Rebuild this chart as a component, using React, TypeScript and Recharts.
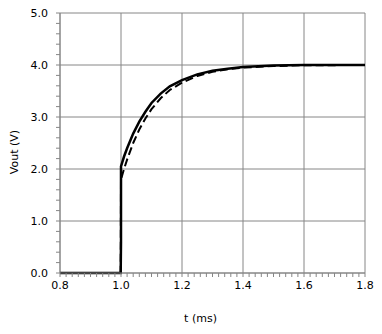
import { CartesianGrid, Label, Line, LineChart, XAxis, YAxis } from "recharts";

// time axis (ms)
const tMajor = [0.8, 1.0, 1.2, 1.4, 1.6, 1.8];
const vMajor = [0, 1, 2, 3, 4, 5];

// solid trace
const solidT = [0.8, 0.999, 1.0, 1.0, 1.01, 1.02, 1.04, 1.06, 1.08, 1.1, 1.13, 1.16, 1.2, 1.25, 1.3, 1.35, 1.4, 1.5, 1.6, 1.8];
const solidV = [0, 0, 0.6, 2.05, 2.24, 2.4, 2.68, 2.91, 3.1, 3.27, 3.45, 3.59, 3.71, 3.82, 3.89, 3.93, 3.96, 3.99, 4.0, 4.0];

// dashed trace
const dashT = [0.8, 0.999, 1.0, 1.01, 1.02, 1.04, 1.06, 1.08, 1.1, 1.13, 1.16, 1.2, 1.25, 1.3, 1.35, 1.4, 1.5, 1.6, 1.8];
const dashV = [0, 0, 1.8, 2.0, 2.18, 2.5, 2.76, 2.97, 3.15, 3.36, 3.52, 3.66, 3.79, 3.87, 3.92, 3.95, 3.98, 3.995, 4.0];

const solidData = solidT.map((t, i) => ({ t, v: solidV[i] }));
const dashData = dashT.map((t, i) => ({ t, v: dashV[i] }));

// minor tick positions
const xTicks: number[] = [];
for (let i = 0; i <= 50; i++) xTicks.push(Math.round((0.8 + i * 0.02) * 100) / 100);
const yTicks: number[] = [];
for (let i = 0; i <= 25; i++) yTicks.push(Math.round(i * 0.2 * 10) / 10);

const font = "'DejaVu Sans', sans-serif";

const XTick = (props: any) => {
  const { x, y, payload } = props;
  if (!tMajor.some((m) => Math.abs(m - payload.value) < 1e-6)) return null;
  return (
    <text x={x} y={y} dy={10} textAnchor="middle" fontSize={11} fontFamily={font} fill="#000">
      {payload.value.toFixed(1)}
    </text>
  );
};

const YTick = (props: any) => {
  const { x, y, payload } = props;
  if (!vMajor.some((m) => Math.abs(m - payload.value) < 1e-6)) return null;
  return (
    <text x={48} y={y} dy={4} textAnchor="end" fontSize={11} fontFamily={font} fill="#000">
      {payload.value.toFixed(1)}
    </text>
  );
};

export default function App() {
  return (
    <div style={{ position: "absolute", left: 0, top: 0, background: "#fff" }}>
      <LineChart width={382} height={334} margin={{ top: 13, right: 17, bottom: 0, left: 0 }}>
        <CartesianGrid stroke="#868686" strokeWidth={1} horizontalValues={vMajor} verticalValues={tMajor} />
        <XAxis
          type="number"
          dataKey="t"
          domain={[0.8, 1.8]}
          ticks={xTicks}
          interval={0}
          height={61}
          tickSize={4}
          tickLine={{ stroke: "#868686" }}
          axisLine={{ stroke: "#868686" }}
          tick={<XTick />}
          allowDuplicatedCategory
        >
          <Label value="t (ms)" position="insideBottom" offset={12} dx={-12} fontSize={11} fontFamily={font} fill="#000" />
        </XAxis>
        <YAxis
          type="number"
          domain={[0, 5]}
          ticks={yTicks}
          interval={0}
          width={60}
          tickSize={4}
          tickLine={{ stroke: "#868686" }}
          axisLine={{ stroke: "#868686" }}
          tick={<YTick />}
        >
          <Label value="Vout (V)" angle={-90} position="center" dx={-16} dy={9} fontSize={11} fontFamily={font} fill="#000" />
        </YAxis>
        <Line data={dashData} dataKey="v" type="linear" stroke="#000" strokeWidth={2} strokeDasharray="8 4" dot={false} isAnimationActive={false} />
        <Line data={solidData} dataKey="v" type="linear" stroke="#000" strokeWidth={2.5} dot={false} isAnimationActive={false} />
      </LineChart>
    </div>
  );
}
